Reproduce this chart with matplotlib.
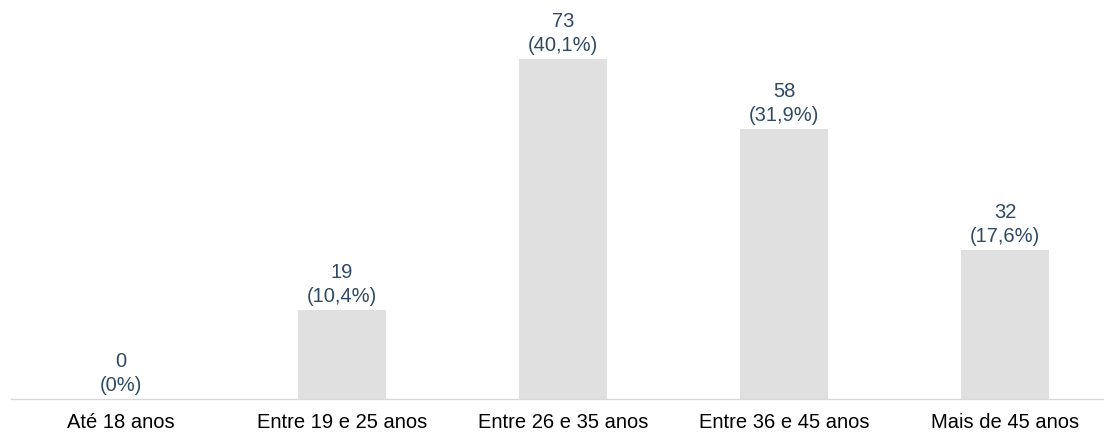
import matplotlib
matplotlib.use("Agg")
import matplotlib.pyplot as plt

plt.rcParams['font.family'] = ['Liberation Sans', 'DejaVu Sans']

categories = ["Até 18 anos", "Entre 19 e 25 anos", "Entre 26 e 35 anos",
              "Entre 36 e 45 anos", "Mais de 45 anos"]
counts = [0, 19, 73, 58, 32]
percent_labels = ["0%", "10,4%", "40,1%", "31,9%", "17,6%"]

bar_color = "#e0e0e0"
label_color = "#2f4a62"
axis_color = "#d9d9d9"

W, H = 1104, 432
fig = plt.figure(figsize=(W / 100, H / 100), dpi=100)
# axes spans from x=10.5px to beyond the right edge, baseline at y=399px
left_px, base_px, step_px = 10.5, 399, 221
ax = fig.add_axes([left_px / W, (H - base_px) / H, 5 * step_px / W, base_px / H])

x = list(range(len(categories)))
ax.bar(x, counts, width=0.4, color=bar_color, zorder=2)

for xi, c, p in zip(x, counts, percent_labels):
    ax.annotate(f"{c}\n({p})", xy=(xi, c), xytext=(0, 3), textcoords="offset points",
                ha="center", va="bottom", fontsize=14.5, color=label_color,
                linespacing=1.32)

ax.set_xlim(-0.5, 4.5)
ax.set_ylim(0, base_px / 4.66)
ax.set_xticks(x)
ax.set_xticklabels(categories, fontsize=14.5, color="black")
ax.tick_params(axis="x", length=0, pad=10)
ax.set_yticks([])
for side in ("top", "right", "left"):
    ax.spines[side].set_visible(False)
ax.spines["bottom"].set_color(axis_color)
ax.spines["bottom"].set_linewidth(1)
ax.patch.set_alpha(0)

fig.savefig("out.png", dpi=100)
